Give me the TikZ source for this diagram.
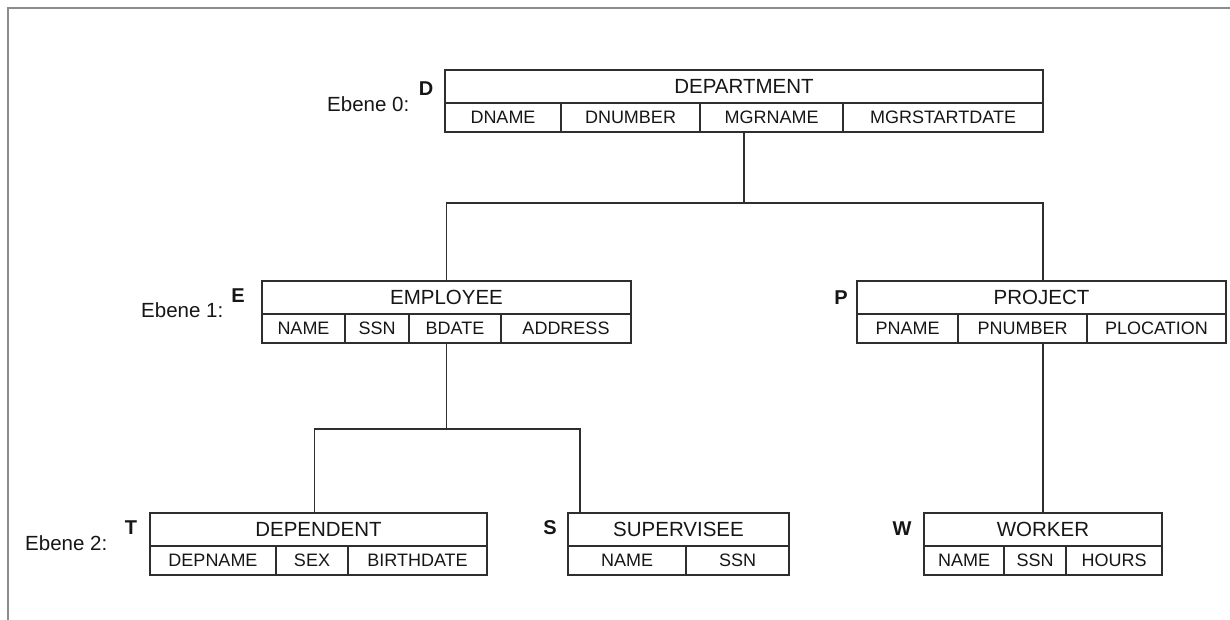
\documentclass[tikz,border=0pt]{standalone}
\usepackage{fontspec}
\setmainfont{Liberation Sans}
\definecolor{linec}{HTML}{2E2E2E}
\definecolor{ink}{HTML}{161616}
\definecolor{framec}{HTML}{8C8C8C}
\tikzset{
  tbl/.style={draw=linec, line width=1.8pt, inner sep=0pt, outer sep=0pt, text=ink},
  hdr/.style={tbl, minimum height=33pt, font=\fontsize{20.5}{24}\selectfont},
  cell/.style={tbl, anchor=north west, minimum height=29pt, font=\fontsize{18}{22}\selectfont},
  tag/.style={text=ink, inner sep=0pt, font=\fontsize{20}{24}\selectfont\bfseries},
  lvl/.style={text=ink, inner sep=0pt, anchor=base west, font=\fontsize{20.5}{24}\selectfont},
  link/.style={draw=linec, line width=1.8pt},
  frame/.style={draw=framec, line width=2pt},
}
\begin{document}
\begin{tikzpicture}[x=1pt,y=-1pt]
\useasboundingbox (0,0) rectangle (1230,620);
\draw[frame] (1230,8) -- (8,8) -- (8,620);

% level 0: DEPARTMENT
\node[hdr, minimum width=598] (dept) at (744,86.5) {DEPARTMENT};
\node[cell, minimum width=116] (dn1) at (445,103) {DNAME};
\node[cell, minimum width=139] (dn2) at (561,103) {DNUMBER};
\node[cell, minimum width=143] (dn3) at (700,103) {MGRNAME};
\node[cell, minimum width=200] (dn4) at (843,103) {MGRSTARTDATE};
\node[tag] (tD) at (426,89) {D};
\node[lvl] (l0) at (327,112) {Ebene 0:};

% level 1: EMPLOYEE and PROJECT
\node[hdr, minimum width=369] (emp) at (446.5,297.5) {EMPLOYEE};
\node[cell, minimum width=83] (em1) at (262,314) {NAME};
\node[cell, minimum width=64] (em2) at (345,314) {SSN};
\node[cell, minimum width=92] (em3) at (409,314) {BDATE};
\node[cell, minimum width=130] (em4) at (501,314) {ADDRESS};
\node[tag] (tE) at (238,296) {E};
\node[lvl] (l1) at (141,317) {Ebene 1:};

\node[hdr, minimum width=369] (proj) at (1041.5,297.5) {PROJECT};
\node[cell, minimum width=101] (pr1) at (857,314) {PNAME};
\node[cell, minimum width=129] (pr2) at (958,314) {PNUMBER};
\node[cell, minimum width=139] (pr3) at (1087,314) {PLOCATION};
\node[tag] (tP) at (841,298) {P};

% level 2: DEPENDENT, SUPERVISEE, WORKER
\node[hdr, minimum width=337] (dep) at (318.5,529.5) {DEPENDENT};
\node[cell, minimum width=126] (de1) at (150,546) {DEPNAME};
\node[cell, minimum width=72] (de2) at (276,546) {SEX};
\node[cell, minimum width=139] (de3) at (348,546) {BIRTHDATE};
\node[tag] (tT) at (131,528) {T};
\node[lvl] (l2) at (25,550) {Ebene 2:};

\node[hdr, minimum width=221] (sup) at (678.5,529.5) {SUPERVISEE};
\node[cell, minimum width=118] (su1) at (568,546) {NAME};
\node[cell, minimum width=103] (su2) at (686,546) {SSN};
\node[tag] (tS) at (550,528) {S};

\node[hdr, minimum width=238] (wrk) at (1043,529.5) {WORKER};
\node[cell, minimum width=80] (wo1) at (924,546) {NAME};
\node[cell, minimum width=62] (wo2) at (1004,546) {SSN};
\node[cell, minimum width=96] (wo3) at (1066,546) {HOURS};
\node[tag] (tW) at (902,529) {W};

% hierarchy links
\coordinate (j0) at (744,203);
\coordinate (j1) at (446.5,429);
\draw[link] (dept |- dn3.south) -- (j0);
\draw[link] (emp.north) |- (j0) -| ([xshift=1.5pt]proj.north);
\draw[link] (emp |- em3.south) -- (j1);
\draw[link] ([xshift=-4pt]dep.north) |- (j1) -| ([xshift=12pt]sup.north west);
\draw[link] (wrk.north) -- (wrk |- pr2.south);
\end{tikzpicture}
\end{document}
